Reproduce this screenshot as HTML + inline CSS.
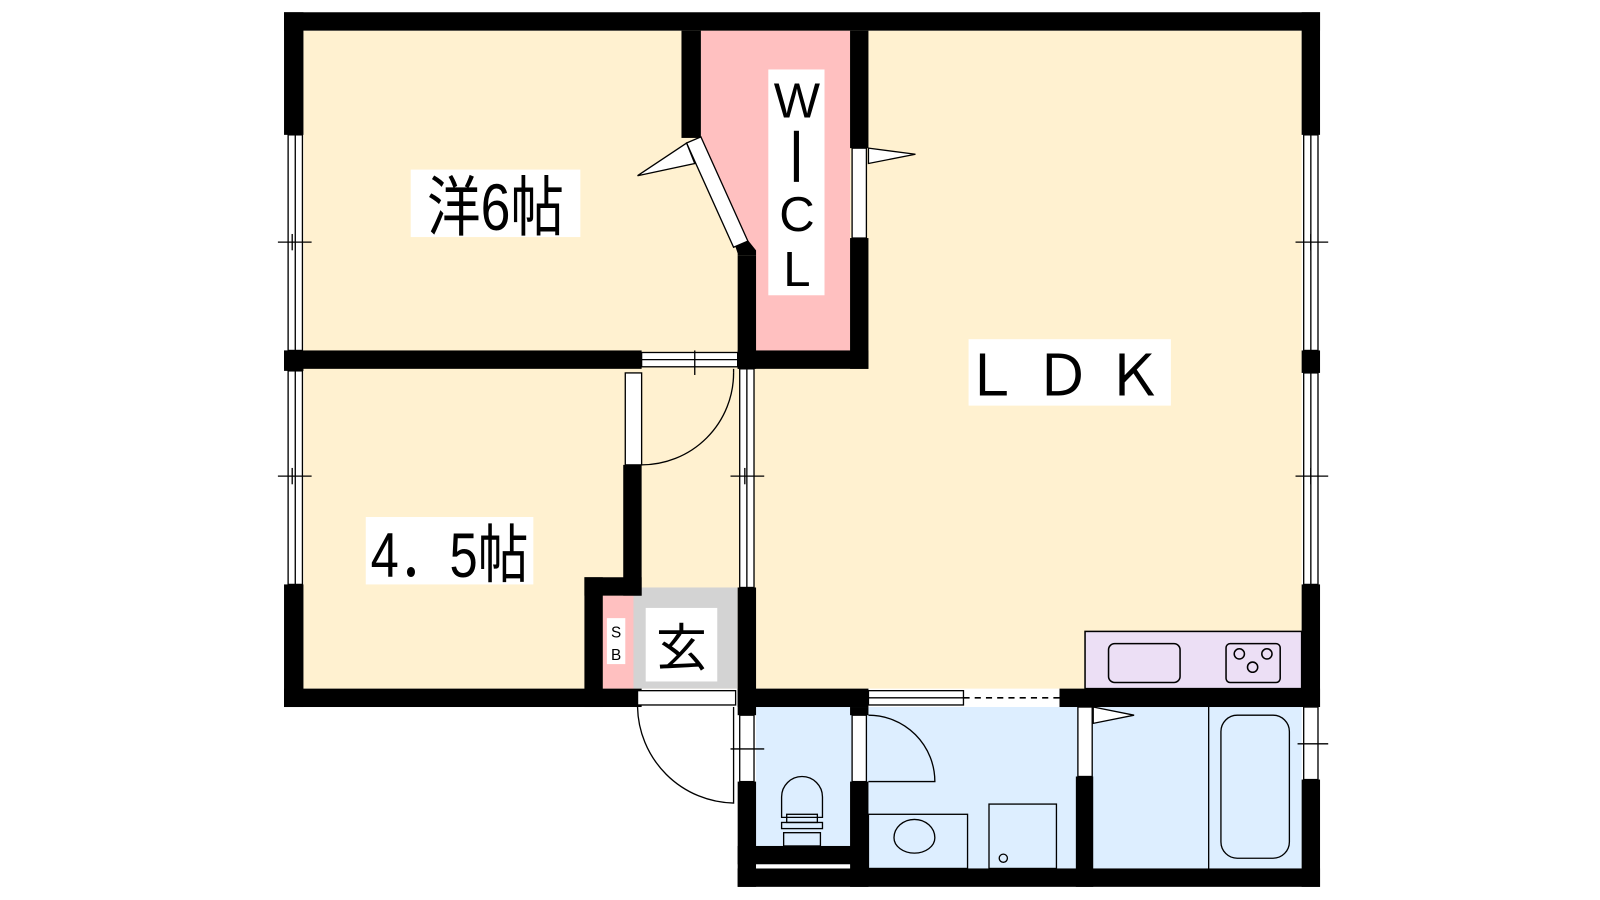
<!DOCTYPE html>
<html><head><meta charset="utf-8"><style>html,body{margin:0;padding:0;background:#fff}svg{display:block}
text{font-family:"Liberation Sans","Noto Sans CJK JP",sans-serif}</style></head><body>
<svg width="1600" height="900" viewBox="0 0 1600 900" xmlns="http://www.w3.org/2000/svg">
<g transform="scale(1.0217)">
<!-- floors -->
<rect x="297" y="30" width="977" height="644" fill="#fff1d0"/>
<polygon points="686,30 832,30 832,343 740,343 740,250 722,238 686,135" fill="#ffc0c0"/>
<rect x="590" y="583" width="32" height="91" fill="#ffc0c0"/>
<rect x="620" y="575" width="102" height="99" fill="#d3d3d3"/>
<rect x="740" y="692" width="534" height="158" fill="#ddeeff"/>
<rect x="1062" y="618" width="212" height="56" fill="#ecdff5" stroke="#000" stroke-width="1.5"/>
<rect x="1085" y="630" width="70" height="38" rx="6" fill="none" stroke="#000" stroke-width="1.5"/>
<rect x="1200" y="630" width="53" height="38" rx="4" fill="none" stroke="#000" stroke-width="1.5"/>
<circle cx="1213" cy="640" r="5" fill="none" stroke="#000" stroke-width="1.5"/><circle cx="1240" cy="640" r="5" fill="none" stroke="#000" stroke-width="1.5"/><circle cx="1226" cy="653" r="5" fill="none" stroke="#000" stroke-width="1.5"/>
<!-- walls -->
<g fill="#000">
<rect x="278" y="12" width="1014" height="18"/>
<rect x="278" y="12" width="19" height="120"/>
<rect x="278" y="343" width="19" height="20"/>
<rect x="278" y="572" width="19" height="120"/>
<rect x="278" y="674" width="350" height="18"/>
<rect x="278" y="343" width="350" height="18"/>
<rect x="1274" y="12" width="18" height="120"/>
<rect x="1274" y="343" width="18" height="22"/>
<rect x="1274" y="572" width="18" height="120"/>
<rect x="1274" y="763" width="18" height="105"/>
<rect x="667" y="30" width="19" height="105"/>
<polygon points="722,250 740,250 740,245 728,230 718,236 722,248"/>
<rect x="722" y="250" width="18" height="111"/>
<rect x="722" y="343" width="128" height="18"/>
<rect x="832" y="30" width="18" height="115"/>
<rect x="832" y="233" width="18" height="128"/>
<rect x="610" y="455" width="18" height="128"/>
<rect x="572" y="565" width="56" height="18"/>
<rect x="572" y="565" width="18" height="127"/>
<rect x="722" y="575" width="18" height="125"/>
<rect x="722" y="765" width="18" height="103"/>
<rect x="722" y="674" width="128" height="18"/>
<rect x="1037" y="674" width="255" height="18"/>
<rect x="722" y="850" width="570" height="18"/>
<rect x="832" y="692" width="18" height="8"/>
<rect x="832" y="765" width="18" height="103"/>
<rect x="722" y="828" width="128" height="18"/>
<rect x="1053" y="760" width="17" height="108"/>
</g>
<rect x="740" y="846" width="92" height="4" fill="#fff"/>
<!-- windows -->
<g fill="#fff" stroke="#000" stroke-width="1.3">
<rect x="282" y="132" width="14" height="211"/><line x1="289" y1="132" x2="289" y2="343"/>
<rect x="282" y="363" width="14" height="209"/><line x1="289" y1="363" x2="289" y2="572"/>
<rect x="1276" y="132" width="14" height="211"/><line x1="1283" y1="132" x2="1283" y2="343"/>
<rect x="1276" y="365" width="14" height="207"/><line x1="1283" y1="365" x2="1283" y2="572"/>
<rect x="1276" y="692" width="14" height="71"/>
<rect x="724" y="361" width="14" height="214"/><line x1="731" y1="361" x2="731" y2="575"/>
<rect x="724" y="700" width="14" height="65"/>
<rect x="628" y="345" width="94" height="14"/><line x1="628" y1="352" x2="722" y2="352"/>
<rect x="624" y="676" width="96" height="14"/>
<rect x="850" y="676" width="93" height="14"/><line x1="850" y1="683" x2="943" y2="683"/>
<rect x="834" y="145" width="14" height="88"/>
<rect x="612" y="365" width="16" height="90"/>
<rect x="834" y="700" width="14" height="65"/>
<rect x="1055" y="692" width="14" height="68"/>
<polygon points="672,140 686,134 732,236 718,242"/>
</g>
<line x1="943" y1="683" x2="1037" y2="683" stroke="#000" stroke-width="1.5" stroke-dasharray="6,5"/>
<g fill="none" stroke="#000" stroke-width="1.3">
<line x1="272" y1="237" x2="305" y2="237"/><line x1="286" y1="229" x2="286" y2="245"/>
<line x1="272" y1="466" x2="305" y2="466"/><line x1="286" y1="458" x2="286" y2="474"/>
<line x1="1268" y1="237" x2="1300" y2="237"/><line x1="1283" y1="229" x2="1283" y2="245"/>
<line x1="1268" y1="466" x2="1300" y2="466"/><line x1="1283" y1="458" x2="1283" y2="474"/>
<line x1="1270" y1="728" x2="1300" y2="728"/>
<line x1="715" y1="466" x2="748" y2="466"/><line x1="729" y1="458" x2="729" y2="474"/>
<line x1="715" y1="733" x2="748" y2="733"/>
<line x1="680" y1="343" x2="680" y2="367"/>
<path d="M628,455 A90,90 0 0 0 718,365"/><line x1="718" y1="361" x2="718" y2="365"/>
<path d="M624,692 A96,96 0 0 0 718,786 L718,692"/>
<path d="M850,765 L915,765 A65,65 0 0 0 850,700"/>
<polygon points="672,140 624,172 680,160" fill="#fff"/>
<polygon points="850,145 896,151 850,160" fill="#fff"/>
<polygon points="1070,692 1110,700 1070,708" fill="#fff"/>
<rect x="1195" y="700" width="67" height="140" rx="16"/>
<line x1="1183" y1="692" x2="1183" y2="850"/>
<path d="M765,780 a20,20 0 0 1 40,0 v20 h-40 z"/>
<rect x="770" y="797" width="30" height="8"/><rect x="765" y="805" width="40" height="6"/><rect x="767" y="815" width="36" height="13"/>
<rect x="850" y="797" width="97" height="53"/>
<path d="M875,820 a20,18 0 1 1 40,0 a20,15 0 0 1 -40,0"/>
<rect x="968" y="787" width="66" height="63"/>
<circle cx="982" cy="840" r="4"/>
</g>
<!-- labels -->
<rect x="402" y="166" width="166" height="66" fill="#fff"/>
<text x="485" y="225" font-size="64" text-anchor="middle" transform="translate(485 0) scale(0.82 1) translate(-485 0)">洋6帖</text>
<rect x="358" y="506" width="164" height="66" fill="#fff"/>
<text x="440" y="565" font-size="62" text-anchor="middle" transform="translate(440 0) scale(0.8 1) translate(-440 0)">4．5帖</text>
<rect x="948" y="332" width="198" height="65" fill="#fff"/>
<text x="1047" y="387" font-size="56" text-anchor="middle" letter-spacing="14">ＬＤＫ</text>
<rect x="752" y="68" width="55" height="221" fill="#fff"/>
<text x="780" y="115" font-size="48" text-anchor="middle">W</text>
<rect x="777" y="128" width="5" height="50" fill="#000"/>
<text x="780" y="226" font-size="48" text-anchor="middle">C</text>
<text x="780" y="280" font-size="48" text-anchor="middle">L</text>
<rect x="632" y="595" width="70" height="72" fill="#fff"/>
<text x="667" y="652" font-size="50" text-anchor="middle">玄</text>
<rect x="594" y="605" width="18" height="45" fill="#fff"/>
<text x="603" y="624" font-size="15" text-anchor="middle">S</text>
<text x="603" y="646" font-size="15" text-anchor="middle">B</text>
</g>
</svg>
</body></html>
